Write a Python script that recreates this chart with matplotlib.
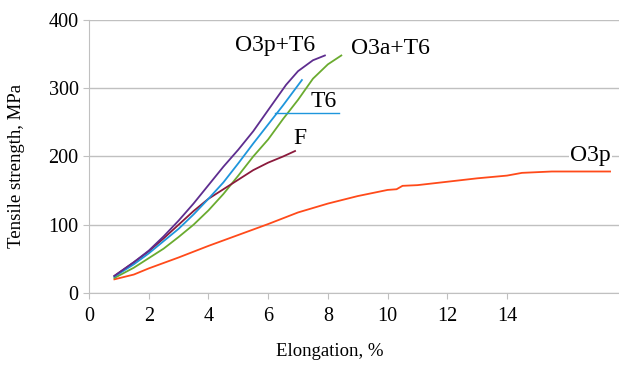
import matplotlib.pyplot as plt

# curves (elongation %, MPa)
o3pt6_x = [0.85, 1.5, 2.0, 2.5, 3.0, 3.5, 4.0, 4.5, 5.0, 5.5, 6.0, 6.6, 7.0, 7.5, 7.9]
o3pt6_y = [25, 45, 62, 83, 106, 131, 158, 185, 210, 237, 268, 305, 325, 341, 348]

t6_x = [0.85, 1.5, 2.0, 2.5, 3.0, 3.5, 4.0, 4.5, 5.0, 5.5, 6.0, 6.5, 7.13]
t6_y = [24, 42, 58, 76, 94, 115, 138, 162, 190, 219, 247, 275, 312]

o3at6_x = [0.85, 1.5, 2.0, 2.5, 3.0, 3.5, 4.0, 4.5, 5.0, 5.5, 6.0, 6.5, 7.0, 7.5, 8.0, 8.45]
o3at6_y = [22, 37, 51, 65, 82, 100, 121, 145, 172, 200, 225, 255, 283, 314, 335, 348]

f_x = [0.85, 1.5, 2.0, 2.5, 3.0, 3.5, 4.0, 4.5, 5.0, 5.5, 6.0, 6.5, 6.9]
f_y = [25, 45, 61, 80, 100, 120, 138, 152, 166, 180, 191, 200, 208]

o3p_x = [0.85, 1.5, 2.0, 3.0, 4.0, 5.0, 6.0, 7.0, 8.0, 9.0, 10.0, 10.3, 10.5, 11.0, 12.0, 13.0, 14.0, 14.5, 15.5, 17.45]
o3p_y = [20, 27, 36, 52, 69, 85, 101, 118, 131, 142, 151, 152, 157, 158, 163, 168, 172, 176, 178, 178]

labels = ['O3p+T6', 'O3a+T6', 'T6', 'F', 'O3p']

plt.rcParams['font.family'] = 'Liberation Serif'
fig = plt.figure(figsize=(6.19, 3.66), dpi=100)
ax = fig.add_axes([0.1438, 0.1995, 0.8562, 0.7459])

ax.plot(o3p_x, o3p_y, color='#FF4A1A', lw=1.3)
ax.plot(o3at6_x, o3at6_y, color='#6AAB2F', lw=1.3)
ax.plot(f_x, f_y, color='#8B1A3C', lw=1.3)
ax.plot(t6_x, t6_y, color='#1E96DC', lw=1.3)
ax.plot(o3pt6_x, o3pt6_y, color='#5E2D8F', lw=1.3)

# leader line of the T6 label
ax.plot([6.23, 8.37], [264, 264], color='#1E96DC', lw=1.0)

ax.text(6.23, 362, labels[0], fontsize=17, ha='center', va='center')
ax.text(10.1, 358, labels[1], fontsize=17, ha='center', va='center')
ax.text(7.85, 281, labels[2], fontsize=17, ha='center', va='center')
ax.text(7.07, 227, labels[3], fontsize=17, ha='center', va='center')
ax.text(16.8, 202, labels[4], fontsize=17, ha='center', va='center',
        bbox=dict(facecolor='white', edgecolor='none', pad=1))

ax.set_xlim(0, 17.75)
ax.set_ylim(0, 400)
ax.set_xticks(range(0, 16, 2))
ax.set_yticks(range(0, 401, 100))
ax.grid(axis='y', color='#C0C0C0', lw=1.0)
ax.set_axisbelow(True)
for s in ['top', 'right']:
    ax.spines[s].set_visible(False)
for s in ['left', 'bottom']:
    ax.spines[s].set_color('#C0C0C0')
ax.tick_params(colors='#C0C0C0', labelcolor='black', labelsize=14.5, length=4)
ax.tick_params(axis='x', pad=6)

ax.set_xlabel('Elongation, %', fontsize=13.5)
ax.set_ylabel('Tensile strength, MPa', fontsize=13.5)
ax.xaxis.set_label_coords(0.455, -0.216)
ax.yaxis.set_label_coords(-0.136, 0.465)
ax.xaxis.label.set_va('center')
ax.yaxis.label.set_va('center')

fig.savefig('out.png', dpi=100)
